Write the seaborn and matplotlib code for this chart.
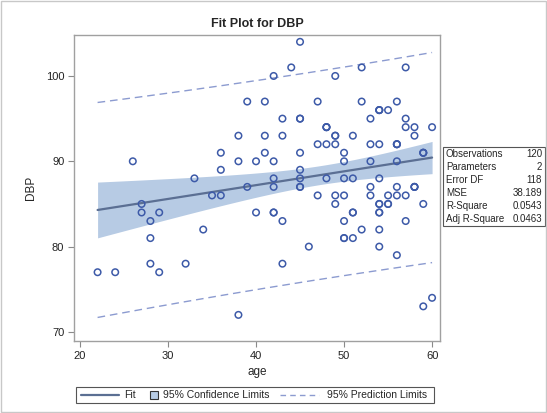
import numpy as np
import pandas as pd
import matplotlib
matplotlib.use("Agg")
import matplotlib.pyplot as plt
import seaborn as sns
from matplotlib.patches import Rectangle
from matplotlib.lines import Line2D

# ---- data ----
age = [22, 24, 26, 27, 27, 28, 28, 28, 29, 29, 32, 33, 34, 35,
       36, 36, 36, 38, 38, 38, 39, 39, 40, 40, 41, 41, 41,
       42, 42, 42, 42, 42, 42, 43, 43, 43, 43, 44,
       45, 45, 45, 45, 45, 45, 45, 45, 46, 47, 47, 47,
       48, 48, 48, 48, 48, 49, 49, 49, 49, 49, 49,
       50, 50, 50, 50, 50, 50, 50, 51, 51, 51, 51, 51,
       52, 52, 52, 53, 53, 53, 53, 53,
       54, 54, 54, 54, 54, 54, 54, 54, 54, 54, 54,
       55, 55, 55, 55, 56, 56, 56, 56, 56, 56, 56, 56,
       57, 57, 57, 57, 57, 58, 58, 58, 58, 58,
       59, 59, 59, 59, 59, 60, 60]
dbp = [77, 77, 90, 85, 84, 83, 81, 78, 84, 77, 78, 88, 82, 86,
       86, 89, 91, 93, 90, 72, 97, 87, 90, 84, 97, 93, 91,
       100, 90, 88, 87, 84, 84, 95, 93, 83, 78, 101,
       104, 95, 95, 91, 89, 88, 87, 87, 80, 97, 92, 86,
       94, 94, 94, 92, 88, 100, 93, 93, 92, 86, 85,
       91, 90, 88, 86, 83, 81, 81, 93, 88, 84, 84, 81,
       101, 97, 82, 95, 92, 90, 87, 86,
       96, 96, 96, 92, 88, 85, 85, 84, 84, 82, 80,
       96, 86, 85, 85, 97, 92, 92, 92, 90, 87, 86, 79,
       101, 95, 94, 86, 83, 94, 93, 87, 87, 87,
       91, 91, 91, 85, 73, 94, 74]

stat_names = ["Observations", "Parameters", "Error DF", "MSE", "R-Square", "Adj R-Square"]
stat_values = ["120", "2", "118", "38.189", "0.0543", "0.0463"]
legend_labels = ["Fit", "95% Confidence Limits", "95% Prediction Limits"]
x_ticks = [20, 30, 40, 50, 60]
y_ticks = [70, 80, 90, 100]

df = pd.DataFrame({"age": age, "DBP": dbp})

# ---- OLS fit with analytic confidence / prediction limits ----
x = df["age"].to_numpy(float)
y = df["DBP"].to_numpy(float)
n = len(x)
b1, b0 = np.polyfit(x, y, 1)
resid = y - (b0 + b1 * x)
mse = np.sum(resid ** 2) / (n - 2)
try:
    from scipy import stats as _st
    tval = _st.t.ppf(0.975, n - 2)
except Exception:
    tval = 1.980
xg = np.linspace(x.min(), x.max(), 200)
yg = b0 + b1 * xg
sxx = np.sum((x - x.mean()) ** 2)
se_mean = np.sqrt(mse * (1 / n + (xg - x.mean()) ** 2 / sxx))
se_pred = np.sqrt(mse * (1 + 1 / n + (xg - x.mean()) ** 2 / sxx))
fitdf = pd.DataFrame({"age": xg, "fit": yg})

# ---- style ----
sns.set_style("white")
plt.rcParams["font.family"] = ["Liberation Sans", "DejaVu Sans"]

col_pt = "#3d5aa8"
col_fit = "#5b6f93"
col_ci = "#b7cbe4"
col_pi = "#8c9bd0"
col_ax = "#8a8a8a"
dash = (0, (5.5, 3.5))

W, H = 547, 413
fig = plt.figure(figsize=(W / 100, H / 100), dpi=100)
ax = fig.add_axes([74 / W, 1 - 341 / H, (440 - 74) / W, (341 - 35) / H])

ax.fill_between(xg, yg - tval * se_mean, yg + tval * se_mean, color=col_ci, lw=0, zorder=1)
sns.lineplot(data=fitdf, x="age", y="fit", color=col_fit, lw=1.6, ax=ax, zorder=3)
ax.plot(xg, yg - tval * se_pred, color=col_pi, lw=1.0, ls=dash, zorder=2)
ax.plot(xg, yg + tval * se_pred, color=col_pi, lw=1.0, ls=dash, zorder=2)
sns.scatterplot(data=df, x="age", y="DBP", marker="o", s=22, facecolors="none",
                edgecolor=col_pt, linewidth=1.1, ax=ax, zorder=4)

ax.set_xlim(19.32, 60.9)
ax.set_ylim(68.94, 104.8)
ax.set_xticks(x_ticks)
ax.set_yticks(y_ticks)
ax.tick_params(axis="both", labelsize=8, length=4, color=col_ax, direction="out",
               bottom=True, left=True, pad=3, labelcolor="#222222")
for s in ax.spines.values():
    s.set_color("#a0a0a0")
    s.set_linewidth(1.0)
ax.set_xlabel("age", fontsize=8.5, labelpad=4)
ax.set_ylabel("DBP", fontsize=8.5, labelpad=6)
ax.set_title("Fit Plot for DBP", fontsize=9, fontweight="bold", pad=6)

def fx(px):
    return px / W

def fy(py):
    return 1 - py / H

# ---- statistics table ----
fig.add_artist(Rectangle((fx(443), fy(226)), fx(545) - fx(443), fy(147) - fy(226),
                         transform=fig.transFigure, fill=False, edgecolor="#555555", lw=0.8))
rowh = (226 - 147) / len(stat_names)
for i, (nm, val) in enumerate(zip(stat_names, stat_values)):
    yy = fy(147 + rowh * (i + 0.5))
    fig.text(fx(446), yy, nm, fontsize=7, va="center", ha="left")
    fig.text(fx(542), yy, val, fontsize=7, va="center", ha="right")

# ---- legend (drawn as figure artists) ----
ly = fy(395)
fig.add_artist(Rectangle((fx(76), fy(403)), fx(434) - fx(76), fy(387) - fy(403),
                         transform=fig.transFigure, fill=False, edgecolor="#555555", lw=0.8))
fig.add_artist(Line2D([fx(81), fx(119)], [ly, ly], transform=fig.transFigure,
                      color=col_fit, lw=1.6))
fig.text(fx(124), ly, legend_labels[0], fontsize=7.5, va="center", ha="left")
fig.add_artist(Rectangle((fx(150), fy(399)), fx(158) - fx(150), fy(391) - fy(399),
                         transform=fig.transFigure, facecolor=col_ci, edgecolor="#333333", lw=0.8))
fig.text(fx(163), ly, legend_labels[1], fontsize=7.5, va="center", ha="left")
fig.add_artist(Line2D([fx(280), fx(319)], [ly, ly], transform=fig.transFigure,
                      color=col_pi, lw=1.0, ls=(0, (4, 3))))
fig.text(fx(327), ly, legend_labels[2], fontsize=7.5, va="center", ha="left")

# outer frame
fig.add_artist(Rectangle((0.002, 0.002), 0.996, 0.996, transform=fig.transFigure,
                         fill=False, edgecolor="#c8c8c8", lw=1.0))

fig.savefig("out.png", dpi=100)
